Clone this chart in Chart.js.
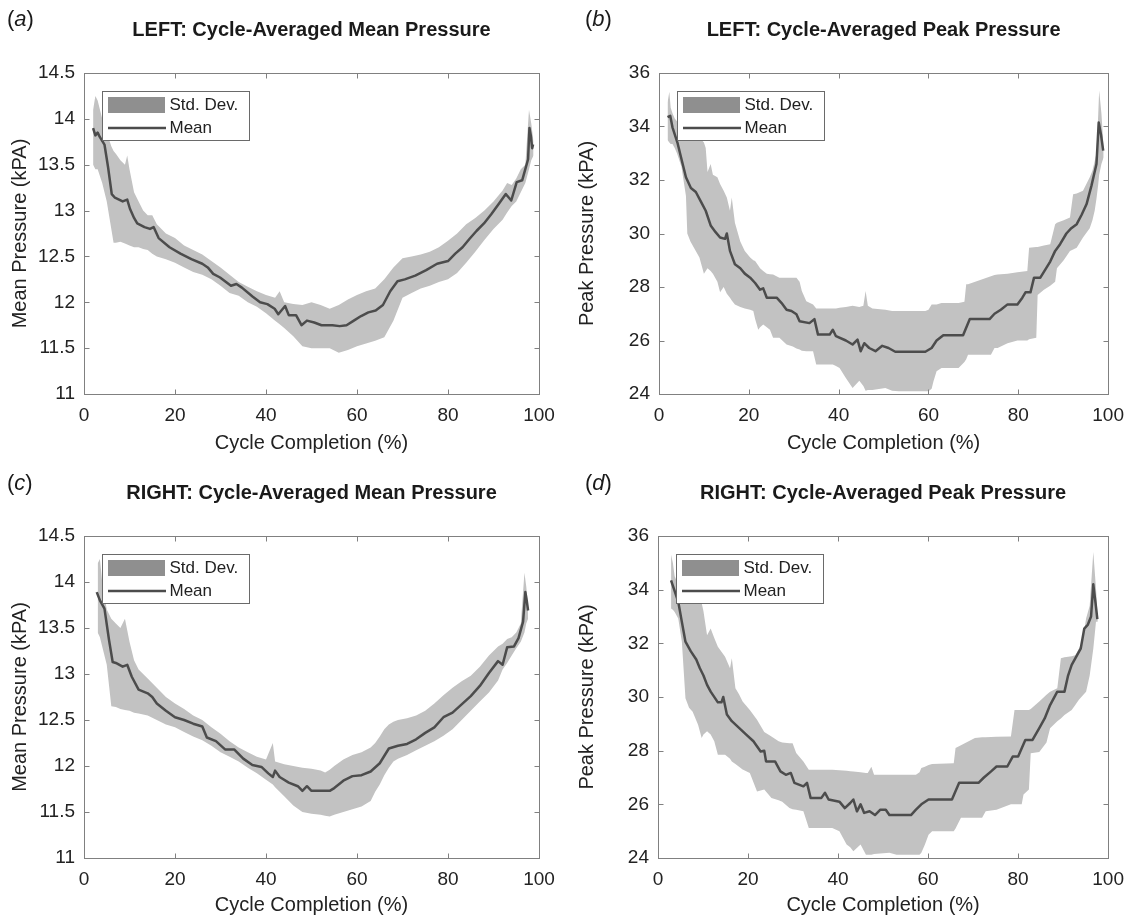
<!DOCTYPE html>
<html>
<head>
<meta charset="utf-8">
<script src="https://cdn.jsdelivr.net/npm/chart.js@4.4.1/dist/chart.umd.min.js"></script>
<style>
html,body{margin:0;padding:0;background:#fff;}
#wrap{position:relative;width:1134px;height:924px;overflow:hidden;background:#fff;}
.panel{position:absolute;width:567px;height:462px;}
.panel canvas{position:absolute;left:0;top:0;}
.plabel{position:absolute;font-family:"Liberation Sans",Arial,sans-serif;font-size:22px;line-height:25px;color:#1a1a1a;}
</style>
</head>
<body>
<div id="wrap">
  <div class="panel" style="left:0;top:0"><canvas id="cA" width="567" height="462"></canvas></div>
  <div class="panel" style="left:567px;top:0"><canvas id="cB" width="567" height="462"></canvas></div>
  <div class="panel" style="left:0;top:462px"><canvas id="cC" width="567" height="462"></canvas></div>
  <div class="panel" style="left:567px;top:462px"><canvas id="cD" width="567" height="462"></canvas></div>
  <div class="plabel" style="left:7px;top:6px">(<i>a</i>)</div>
  <div class="plabel" style="left:585px;top:6px">(<i>b</i>)</div>
  <div class="plabel" style="left:7px;top:470px">(<i>c</i>)</div>
  <div class="plabel" style="left:585px;top:470px">(<i>d</i>)</div>
</div>
<script>
// ---------- titles / labels ----------
const titleA = "LEFT: Cycle-Averaged Mean Pressure";
const titleB = "LEFT: Cycle-Averaged Peak Pressure";
const titleC = "RIGHT: Cycle-Averaged Mean Pressure";
const titleD = "RIGHT: Cycle-Averaged Peak Pressure";
const xAxisLabel = "Cycle Completion (%)";
const yLabelMean = "Mean Pressure (kPA)";
const yLabelPeak = "Peak Pressure (kPA)";
const legendBand = "Std. Dev.";
const legendMean = "Mean";
const xTicks = [0, 20, 40, 60, 80, 100];
const yTicksMean = [11, 11.5, 12, 12.5, 13, 13.5, 14, 14.5];
const yTicksPeak = [24, 26, 28, 30, 32, 34, 36];

// ---------- panel (a) LEFT mean ----------
const bandXA = [2,2.5,3,4,5,6,6.5,7,8,9,9.5,10,11,12,13,14,15,16,18,20,22,24,26,28,30,32,34,36,38,40,42,43,44,46,48,50,52,54,56,58,60,62,64,66,68,70,72,74,76,78,80,82,84,86,88,90,92,93,94,95,96,97,97.8,98.3,98.8];
const upperA = [14.1,14.25,14.2,14.0,13.85,13.7,13.65,13.62,13.55,13.5,13.6,13.45,13.2,13.1,13.0,12.95,12.95,12.85,12.75,12.7,12.62,12.57,12.52,12.45,12.38,12.3,12.22,12.17,12.12,12.08,12.05,12.12,12.0,11.98,11.97,12.0,11.97,11.93,11.97,12.03,12.08,12.12,12.15,12.25,12.38,12.48,12.5,12.52,12.55,12.6,12.67,12.75,12.85,12.92,13.0,13.1,13.22,13.3,13.28,13.35,13.45,13.5,14.1,13.95,13.75];
const lowerA = [13.5,13.45,13.45,13.3,13.1,12.8,12.65,12.65,12.66,12.64,12.63,12.62,12.6,12.6,12.58,12.57,12.53,12.5,12.47,12.43,12.38,12.33,12.3,12.25,12.18,12.1,12.07,12.0,11.95,11.88,11.8,11.76,11.72,11.63,11.52,11.5,11.5,11.5,11.45,11.48,11.52,11.55,11.58,11.62,11.8,12.05,12.1,12.15,12.18,12.22,12.25,12.32,12.43,12.55,12.68,12.8,12.9,12.98,13.05,13.1,13.2,13.3,13.45,13.55,13.6];
const meanXA = [2.0,2.5,3.0,3.5,4.5,5.3,6.1,6.8,7.7,8.5,9.5,10.1,11.0,11.7,13.3,14.5,15.3,16.4,18.8,21.2,23.6,26,27.2,28.4,29.9,32.3,33.5,34.7,37.1,38.7,40.3,41.9,42.7,44.2,45,46.6,47.8,49,50.6,52.2,54.6,56.2,57.7,59.3,60.9,62.5,64.1,65.7,67.3,68.9,70.5,72.8,75.2,77.6,80,81.6,83.2,84.7,86.3,87.9,89.5,91.1,92.7,93.9,95.1,96.3,97.1,97.6,97.9,98.2,98.5,98.7];
const meanA = [13.9,13.82,13.85,13.8,13.72,13.47,13.18,13.14,13.12,13.1,13.12,13.02,12.92,12.86,12.82,12.8,12.82,12.7,12.6,12.53,12.47,12.42,12.38,12.31,12.27,12.18,12.2,12.16,12.06,12.0,11.98,11.93,11.87,11.96,11.86,11.86,11.75,11.8,11.78,11.75,11.75,11.74,11.75,11.8,11.85,11.89,11.91,11.97,12.12,12.23,12.25,12.29,12.35,12.42,12.45,12.53,12.6,12.69,12.78,12.86,12.96,13.07,13.18,13.11,13.31,13.33,13.47,13.56,13.9,13.82,13.68,13.72];

// ---------- panel (b) LEFT peak ----------
const bandXB = [1.9,2.3,2.6,3,3.5,4,5,6,6.3,7,8,9,10,10.4,10.8,11.5,12,13,13.6,14.4,15.1,15.8,16.2,16.9,18.1,19.1,20.3,21,21.4,22.1,22.5,23.2,24,24.7,25.4,26.8,28.4,29.8,30.6,31.3,31.8,32.8,34.3,35,38.7,39.4,40.2,41.6,43.1,44.6,45.5,46,46.5,47.5,50.4,51.9,53.4,59.3,60,60.7,61.1,61.8,62.9,66.7,68,68.4,68.8,73.9,74.7,75.4,77.6,79.8,82,82.4,84,84.3,85.7,87.1,88.2,88.6,90.1,91.5,92.2,93,94.4,95.9,96.5,97,97.4,97.8,98,98.5,99];
const upperB = [34.9,35.3,34.7,34.5,34.3,34.2,34.0,33.9,33.8,33.8,33.7,33.6,33.4,33.2,32.3,32.6,32.2,32.1,31.85,31.6,31.35,30.85,31.35,30.4,29.7,29.35,29.1,29.0,28.97,28.8,28.7,28.6,28.5,28.48,28.47,28.35,28.35,28.35,28.35,28.2,27.85,27.47,27.35,27.2,27.2,27.2,27.22,27.25,27.3,27.25,27.3,27.85,27.3,27.2,27.15,27.1,27.1,27.1,27.15,27.35,27.35,27.35,27.4,27.4,27.45,28.1,28.1,28.4,28.45,28.47,28.5,28.55,28.6,29.47,29.5,29.5,29.55,29.6,30.35,30.4,30.5,30.6,31.47,31.5,31.6,32.1,32.35,32.7,33.0,34.5,35.35,34.5,33.2];
const lowerB = [33.5,33.4,33.35,33.35,33.2,33.0,32.5,31.4,30.0,29.7,29.4,29.1,28.5,28.6,28.7,28.6,28.5,28.2,27.8,28.0,27.75,27.6,27.5,27.35,27.25,27.2,27.15,27.1,26.8,26.4,26.5,26.6,26.5,26.4,26.1,26.1,25.85,25.78,25.7,25.66,25.62,25.6,25.6,25.1,25.1,25.05,24.97,24.6,24.22,24.5,24.3,24.12,24.15,24.15,24.22,24.12,24.1,24.1,24.1,24.2,24.47,24.85,24.97,24.97,25.2,25.3,25.47,25.47,25.72,25.72,25.9,26.0,26.0,26.05,26.1,27.7,27.9,28.05,28.2,28.7,29.0,29.35,29.4,29.47,29.85,30.2,30.5,30.85,31.3,31.85,32.2,32.6,32.85];
const meanXB = [1.9,2.5,3,4.1,4.9,6,7.1,8.2,9.3,10.4,11.5,12.6,13.6,14.7,15.1,15.8,16.9,18.1,19.1,20.3,21.4,22.5,23.2,24,26.2,27.3,28.4,29.5,30.6,31.3,33.5,34.6,35.4,38,38.7,39.4,41.6,43.1,44.2,44.9,45.7,46.8,48.2,49.7,51.1,52.6,59.3,60.7,61.8,63.3,67.7,69.2,73.6,74.7,76.1,77.6,79.8,80.9,81.6,82.7,83.5,84.9,86,87.1,88.2,89.3,90.7,91.8,93,94.1,95.2,96.3,97.4,97.9,98.4,98.9];
const meanB = [34.35,34.4,33.97,33.4,32.85,32.1,31.7,31.55,31.2,30.85,30.3,30.05,29.85,29.8,30.0,29.35,28.85,28.7,28.5,28.35,28.15,27.9,27.95,27.6,27.6,27.4,27.15,27.1,26.98,26.72,26.65,26.8,26.22,26.22,26.4,26.16,26.0,25.85,26.03,25.6,25.9,25.72,25.6,25.8,25.72,25.58,25.58,25.72,26.0,26.2,26.2,26.8,26.8,27.0,27.15,27.35,27.35,27.6,27.8,27.8,28.35,28.35,28.65,28.95,29.35,29.6,30.0,30.2,30.35,30.7,31.1,31.8,32.6,34.15,33.7,33.1];

// ---------- panel (c) RIGHT mean ----------
const bandXC = [3,3.5,4,5,6,7,8,9,10,11,12,14,16,18,20,22,24,26,28,30,32,34,36,38,40,41.5,42,44,46,48,50,52,53,54,55,57,59,61,63,64,65,66,67,68,69,71,73,75,77,79,81,83,85,87,89,91,92,93,94,95,96,96.8,97.2,97.6];
const upperC = [14.2,14.25,14.0,13.7,13.6,13.55,13.5,13.6,13.35,13.15,13.05,12.95,12.85,12.75,12.68,12.62,12.55,12.5,12.42,12.35,12.27,12.2,12.15,12.1,12.07,12.25,12.05,12.02,12.0,11.98,11.97,11.95,11.93,11.96,12.0,12.07,12.12,12.15,12.2,12.25,12.32,12.4,12.45,12.48,12.5,12.52,12.55,12.6,12.68,12.77,12.85,12.92,12.98,13.08,13.2,13.3,13.33,13.38,13.4,13.45,13.55,14.1,13.95,13.75];
const lowerC = [13.45,13.4,13.3,13.1,12.65,12.64,12.62,12.61,12.6,12.58,12.57,12.55,12.5,12.45,12.42,12.37,12.32,12.28,12.22,12.15,12.1,12.05,11.98,11.92,11.85,11.8,11.77,11.67,11.57,11.5,11.48,11.47,11.46,11.45,11.47,11.5,11.53,11.56,11.62,11.72,11.8,11.9,11.98,12.05,12.08,12.12,12.17,12.22,12.27,12.33,12.4,12.5,12.6,12.7,12.8,12.93,13.05,13.12,13.2,13.28,13.35,13.45,13.55,13.6];
const meanXC = [2.8,3.5,4.5,5.5,6.3,7,8.5,9.5,10.5,12,14,15,16,18,20,22,24,26,27,29,31,33,35,37,39,40.5,41.5,42,43,45,47,48,49,50,52,54,55,57,59,61,63,65,67,69,71,73,75,77,79,81,83,85,87,89,91,92,93,94.5,95.5,96.5,97,97.3,97.6];
const meanC = [13.89,13.8,13.71,13.37,13.13,13.12,13.08,13.1,12.97,12.83,12.79,12.75,12.68,12.6,12.53,12.5,12.46,12.43,12.31,12.27,12.18,12.18,12.08,12.01,11.99,11.92,11.88,11.95,11.88,11.82,11.78,11.73,11.78,11.73,11.73,11.73,11.76,11.84,11.89,11.9,11.94,12.03,12.19,12.22,12.24,12.29,12.36,12.42,12.53,12.58,12.67,12.76,12.87,13.01,13.14,13.1,13.29,13.3,13.39,13.57,13.89,13.8,13.69];

// ---------- panel (d) RIGHT peak ----------
const bandXD = [2.9,3.3,3.7,4.5,5.3,6.1,6.9,7.7,8.9,9.7,10.1,10.9,11.7,12.5,13.3,14.9,16.0,16.4,17.2,18.0,18.8,20.4,22.0,23.6,25.2,26.8,27.6,29.2,29.9,30.7,32.3,33.5,38.7,40.3,41.9,42.7,43.4,45.0,46.2,46.6,47.4,48.0,51.4,53.0,57.3,58.1,58.5,59.3,60.1,60.9,65.7,66.1,67.3,70.4,72.0,72.8,75.2,78.4,79.2,80.8,81.2,82.4,82.8,84.7,86.3,87.1,88.7,89.5,90.3,91.9,92.7,93.5,94.3,95.1,95.9,96.7,97.3,97.7];
const upperD = [35.3,35.0,34.5,34.2,34.0,33.9,33.8,33.7,33.6,33.5,33.2,32.3,32.55,32.2,31.87,31.5,31.07,31.44,30.33,30.1,29.83,29.52,29.15,28.7,28.53,28.35,28.3,28.28,28.28,27.91,27.6,27.29,27.29,27.27,27.25,27.23,27.22,27.2,27.17,27.17,27.4,27.1,27.1,27.1,27.1,27.2,27.35,27.4,27.47,27.5,27.53,28.1,28.2,28.47,28.5,28.5,28.52,28.53,29.52,29.52,29.52,29.52,29.55,29.83,30.08,30.2,30.33,31.44,31.48,31.52,31.56,31.8,32.06,32.93,33.4,35.4,34.05,32.93];
const lowerD = [33.3,33.25,33.17,32.93,32.06,29.95,29.6,29.45,28.97,28.47,28.6,28.72,28.6,28.35,27.85,27.85,27.7,27.6,27.5,27.4,27.3,27.17,26.48,26.55,26.24,26.15,26.1,25.86,25.82,25.8,25.74,25.12,25.12,25.0,24.5,24.4,24.25,24.5,24.12,24.12,24.12,24.15,24.2,24.12,24.12,24.12,24.2,24.5,24.87,25.0,25.0,25.1,25.5,25.5,25.5,25.74,25.8,26.0,26.0,26.0,26.37,26.55,27.9,27.95,28.3,28.84,29.1,29.2,29.33,29.52,29.7,29.9,30.05,30.2,30.8,31.8,32.8,32.8];
const meanXD = [2.9,3.5,4.5,5.3,6.1,7.3,8.5,9.3,10.1,10.9,11.7,13.3,14.1,14.5,15.3,16.4,18,19.6,21.2,22.8,23.6,24,26,27.2,28.4,29.5,30.3,32.3,33.1,33.9,36.3,37.1,37.9,40.3,41.5,42.7,43.4,44.2,45,45.8,47,48.2,49.4,50.6,51.4,56.2,57.3,58.5,60.1,65.3,66.9,71.2,72.4,74,75.2,77.6,78.8,80,81.6,83.2,84.7,85.9,87.1,88.7,90.3,91.1,91.9,92.7,93.9,94.7,95.5,96.2,96.7,97.2,97.6];
const meanD = [34.35,34.05,33.55,32.8,32.06,31.7,31.4,31.07,30.8,30.45,30.2,29.8,29.8,30.0,29.35,29.1,28.85,28.6,28.35,27.97,28.0,27.6,27.6,27.23,27.1,27.17,26.8,26.67,26.8,26.24,26.24,26.43,26.18,26.1,25.86,26.05,26.18,25.74,26.0,25.68,25.74,25.6,25.8,25.8,25.6,25.6,25.8,26.0,26.18,26.18,26.8,26.8,27.0,27.23,27.41,27.41,27.78,27.78,28.4,28.4,28.84,29.2,29.7,30.2,30.2,30.8,31.2,31.44,31.8,32.55,32.7,33.0,34.2,33.5,32.9];

// ---------- styling ----------
const FONT = '"Liberation Sans", Arial, Helvetica, sans-serif';
const BAND_COLOR = '#c2c2c2';
const SWATCH_COLOR = '#8f8f8f';
const LINE_COLOR = '#4c4c4c';
const AXIS_COLOR = '#808080';
const TEXT_COLOR = '#222222';

function pts(xs, ys) { return xs.map((x, i) => ({x: x, y: ys[i]})); }
function fmtTick(v) { return String(Math.round(v * 100) / 100); }

const boxPlugin = {
  id: 'matlabBox',
  afterDatasetsDraw(chart) {
    const ctx = chart.ctx, ca = chart.chartArea;
    const lx = Math.round(ca.left) + 18.5, ly = Math.round(ca.top) + 18.5, lw = 147, lh = 49;
    ctx.save();
    ctx.fillStyle = '#ffffff';
    ctx.fillRect(lx, ly, lw, lh);
    ctx.strokeStyle = '#6a6a6a';
    ctx.lineWidth = 1;
    ctx.strokeRect(lx, ly, lw, lh);
    const band = chart.data.datasets[0], mean = chart.data.datasets[2];
    ctx.fillStyle = SWATCH_COLOR;
    ctx.fillRect(lx + 5.5, ly + 5.5, 57, 16);
    ctx.strokeStyle = mean.borderColor;
    ctx.lineWidth = mean.borderWidth;
    ctx.beginPath();
    ctx.moveTo(lx + 5.5, ly + 36.5);
    ctx.lineTo(lx + 63.5, ly + 36.5);
    ctx.stroke();
    ctx.fillStyle = TEXT_COLOR;
    ctx.font = '17px ' + FONT;
    ctx.textBaseline = 'middle';
    ctx.textAlign = 'left';
    ctx.fillText(band.label, lx + 67, ly + 14);
    ctx.fillText(mean.label, lx + 67, ly + 37);
    ctx.restore();
  },
  afterDraw(chart) {
    const ctx = chart.ctx, ca = chart.chartArea;
    const L = Math.round(ca.left) + 0.5, R = Math.round(ca.right) + 0.5;
    const T = Math.round(ca.top) + 0.5, B = Math.round(ca.bottom) + 0.5;
    ctx.save();
    ctx.strokeStyle = AXIS_COLOR;
    ctx.lineWidth = 1;
    ctx.strokeRect(L, T, R - L, B - T);
    const tl = 5;
    ctx.beginPath();
    chart.scales.x.ticks.forEach(t => {
      const px = Math.round(chart.scales.x.getPixelForValue(t.value)) + 0.5;
      ctx.moveTo(px, B); ctx.lineTo(px, B - tl);
      ctx.moveTo(px, T); ctx.lineTo(px, T + tl);
    });
    chart.scales.y.ticks.forEach(t => {
      const py = Math.round(chart.scales.y.getPixelForValue(t.value)) + 0.5;
      ctx.moveTo(L, py); ctx.lineTo(L + tl, py);
      ctx.moveTo(R, py); ctx.lineTo(R - tl, py);
    });
    ctx.stroke();
    ctx.restore();
  }
};

function makeChart(id, o) {
  const W = 567, H = 462;
  return new Chart(document.getElementById(id), {
    type: 'line',
    data: {
      datasets: [
        {label: legendBand, data: pts(o.bandX, o.upper), fill: '+1', backgroundColor: BAND_COLOR,
         borderWidth: 0, borderColor: 'rgba(0,0,0,0)', pointRadius: 0, tension: 0, order: 3},
        {label: 'lower', data: pts(o.bandX, o.lower), fill: false, borderWidth: 0,
         borderColor: 'rgba(0,0,0,0)', pointRadius: 0, tension: 0, order: 2},
        {label: legendMean, data: pts(o.meanX, o.mean), fill: false, borderColor: LINE_COLOR,
         borderWidth: 2.5, pointRadius: 0, tension: 0, order: 1, borderJoinStyle: 'round'}
      ]
    },
    options: {
      responsive: false,
      animation: false,
      devicePixelRatio: 1,
      layout: {padding: {left: 0, right: W - o.right, top: 0, bottom: 0}},
      plugins: {
        legend: {display: false},
        tooltip: {enabled: false},
        title: {
          display: true, text: o.title, fullSize: false, color: '#1a1a1a',
          font: {family: FONT, size: 20, weight: 'bold', lineHeight: 1.2},
          padding: {top: o.titleY - 12, bottom: o.top - o.titleY - 12}
        }
      },
      scales: {
        x: {
          type: 'linear', min: 0, max: 100,
          afterBuildTicks: s => { s.ticks = xTicks.map(v => ({value: v})); },
          afterFit: s => { s.height = H - o.bottom; },
          grid: {display: false, drawTicks: false},
          border: {display: false},
          ticks: {color: TEXT_COLOR, padding: 10, maxRotation: 0, callback: fmtTick,
                  font: {family: FONT, size: 19, lineHeight: 1.2}},
          title: {display: true, text: xAxisLabel, color: TEXT_COLOR, padding: {top: 0, bottom: 7},
                  font: {family: FONT, size: 20, lineHeight: 1.2}}
        },
        y: {
          type: 'linear', min: o.yTicks[0], max: o.yTicks[o.yTicks.length - 1],
          afterBuildTicks: s => { s.ticks = o.yTicks.map(v => ({value: v})); },
          afterFit: s => { s.width = o.left; },
          grid: {display: false, drawTicks: false},
          border: {display: false},
          ticks: {color: TEXT_COLOR, padding: 9, callback: fmtTick,
                  font: {family: FONT, size: 19, lineHeight: 1.2}},
          title: {display: true, text: o.yLabel, color: TEXT_COLOR, padding: {top: 8, bottom: 0},
                  font: {family: FONT, size: 20, lineHeight: 1.2}}
        }
      }
    },
    plugins: [boxPlugin]
  });
}

makeChart('cA', {title: titleA, yLabel: yLabelMean, yTicks: yTicksMean, bandX: bandXA, upper: upperA, lower: lowerA,
  meanX: meanXA, mean: meanA, left: 84, right: 539, top: 73, bottom: 394, titleY: 30});
makeChart('cB', {title: titleB, yLabel: yLabelPeak, yTicks: yTicksPeak, bandX: bandXB, upper: upperB, lower: lowerB,
  meanX: meanXB, mean: meanB, left: 92, right: 548, top: 73, bottom: 394, titleY: 30});
makeChart('cC', {title: titleC, yLabel: yLabelMean, yTicks: yTicksMean, bandX: bandXC, upper: upperC, lower: lowerC,
  meanX: meanXC, mean: meanC, left: 84, right: 539, top: 74, bottom: 396, titleY: 31});
makeChart('cD', {title: titleD, yLabel: yLabelPeak, yTicks: yTicksPeak, bandX: bandXD, upper: upperD, lower: lowerD,
  meanX: meanXD, mean: meanD, left: 91, right: 547, top: 74, bottom: 396, titleY: 31});
</script>
</body>
</html>
